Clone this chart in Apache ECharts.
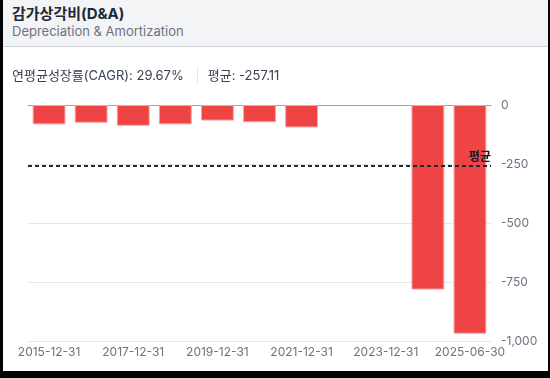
<!DOCTYPE html>
<html>
<head>
<meta charset="utf-8">
<script src="https://cdn.jsdelivr.net/npm/echarts@6/dist/echarts.min.js"></script>
<style>
  html, body { margin: 0; padding: 0; }
  body { width: 550px; height: 378px; background: #000; position: relative; overflow: hidden;
         font-family: Inter, "Noto Sans CJK KR", sans-serif; }
  .card { position: absolute; left: 3px; top: 0; right: 2px; bottom: 7px; background: #fff; }
  .head { position: absolute; left: 0; top: 0; right: 0; height: 46px; background: #f3f4f6;
          border-bottom: 1px solid #d1d5db; }
  .title { position: absolute; left: 9px; top: 2px; font-size: 15px; font-weight: 700; color: #1f2937; }
  .sub { position: absolute; left: 9px; top: 23px; font-size: 13px; color: #6b7280; }
  .stats { position: absolute; left: 9px; top: 65px; font-size: 13px; color: #374151; display: flex; align-items: center; }
  .sep { width: 1px; height: 18px; background: #e5e7eb; margin: 0 10px 0 13px; }
  #chart { position: absolute; left: -3px; top: 0; width: 550px; height: 378px; }
</style>
</head>
<body>
<div class="card">
  <div id="chart"></div>
  <div class="head">
    <div class="title">감가상각비(D&amp;A)</div>
    <div class="sub">Depreciation &amp; Amortization</div>
  </div>
  <div class="stats"><span>연평균성장률(CAGR): 29.67%</span><span class="sep"></span><span>평균: -257.11</span></div>
</div>
<script>
// 기간
var dates = ['2015-12-31','2016-12-31','2017-12-31','2018-12-31','2019-12-31','2020-12-31',
             '2021-12-31','2022-12-31','2023-12-31','2024-12-31','2025-06-30'];
// 감가상각비 (값 없는 연도는 null)
var values = [-82, -75, -88, -82, -66, -73, -95, null, null, -782, -969];
var avgValue = -257.11;
var yTicks = [0, -250, -500, -750, -1000];

var chart = echarts.init(document.getElementById('chart'));
var option = {
  animation: false,
  grid: { left: 28, right: 59, top: 105, bottom: 37 },
  xAxis: {
    type: 'category',
    data: dates,
    axisLine: { lineStyle: { color: '#9ca3af' } },
    axisTick: { alignWithLabel: true, interval: 1, length: 5, lineStyle: { color: '#9ca3af' } },
    axisLabel: { interval: 1, color: '#6b7280', fontSize: 12, margin: 5, fontFamily: 'Inter' }
  },
  yAxis: {
    type: 'value',
    position: 'right',
    min: yTicks[yTicks.length - 1],
    max: yTicks[0],
    interval: 250,
    axisLine: { show: false },
    axisTick: { show: false },
    splitLine: { lineStyle: { color: '#e5e7eb' } },
    axisLabel: {
      color: '#6b7280', fontSize: 12, margin: 10, fontFamily: 'Inter',
      formatter: function (v) { return v.toLocaleString('en-US'); }
    }
  },
  series: [{
    type: 'bar',
    data: values,
    barCategoryGap: '22%',
    itemStyle: { color: '#ef4444', borderColor: '#f5a3a3', borderWidth: 1 },
    markLine: {
      symbol: 'none',
      silent: true,
      data: [{ yAxis: avgValue }],
      lineStyle: { color: '#1f2937', type: [4, 3], width: 2 },
      label: {
        position: 'insideEndTop',
        formatter: '평균',
        color: '#111827',
        fontSize: 12,
        fontWeight: 'bold',
        fontFamily: '"Noto Sans CJK KR"',
        distance: [0, 3]
      }
    }
  }]
};
chart.setOption(option);
</script>
</body>
</html>
